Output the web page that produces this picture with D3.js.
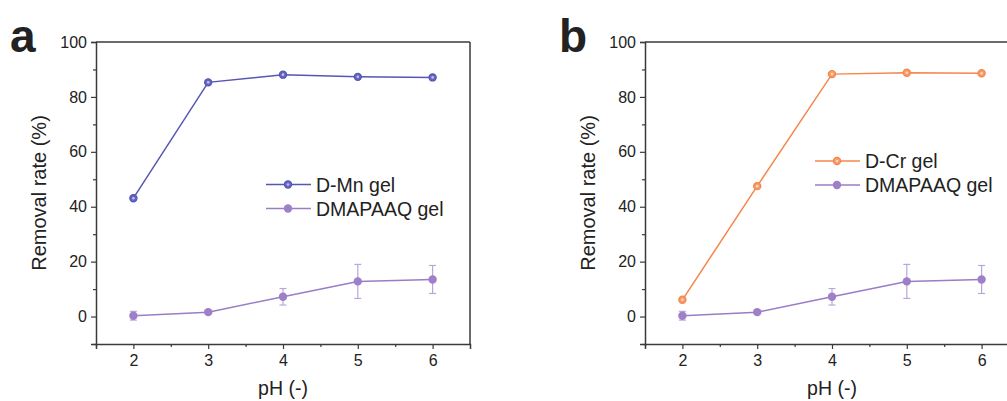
<!DOCTYPE html>
<html><head><meta charset="utf-8">
<script src="https://cdn.jsdelivr.net/npm/d3@7"></script>
<style>
body{margin:0;background:#fff;}
text{font-family:"Liberation Sans",Arial,sans-serif;fill:#222;}
</style></head>
<body><svg id="c" width="1007" height="401"></svg>
<script>
const pH = [2, 3, 4, 5, 6];
const dMn = [43.1, 85.3, 88.1, 87.3, 87.1];
const dCr = [6.1, 47.5, 88.3, 88.8, 88.6];
const dmapaaq = [0.3, 1.6, 7.2, 12.8, 13.5];
const dmapaaqErr = [1.6, 0.6, 3.0, 6.2, 5.1];
const yTicks = [0, 20, 40, 60, 80, 100];
const xTicks = [2, 3, 4, 5, 6];

const svg = d3.select("#c");
const AX = "#3a3a3a";

function panel(ox, letter, mainName, mainVals, mainColor, mainFill, legendY) {
  const x = d3.scaleLinear().domain([1.5, 6.5]).range([ox, ox + 374]);
  const y = d3.scaleLinear().domain([-10, 100]).range([344, 42]);
  const g = svg.append("g");

  // frame top & right
  g.append("line").attr("x1", x(1.5)).attr("x2", x(6.5)).attr("y1", y(100)).attr("y2", y(100))
    .attr("stroke", AX).attr("stroke-width", 1.5);
  g.append("line").attr("x1", x(6.5)).attr("x2", x(6.5)).attr("y1", y(100)).attr("y2", y(-10))
    .attr("stroke", AX).attr("stroke-width", 1.5);

  // y axis
  const ya = d3.axisLeft(y).tickValues(yTicks).tickSize(5).tickPadding(4);
  g.append("g").attr("transform", `translate(${x(1.5)},0)`).call(ya);
  const yMinor = d3.axisLeft(y).tickValues(d3.range(-10, 101, 10).filter(v => !yTicks.includes(v))).tickSize(3).tickFormat("");
  g.append("g").attr("transform", `translate(${x(1.5)},0)`).call(yMinor).select(".domain").remove();

  // x axis
  const xa = d3.axisBottom(x).tickValues(xTicks).tickSize(5).tickPadding(6).tickFormat(d3.format("d"));
  g.append("g").attr("transform", `translate(0,${y(-10)})`).call(xa);
  const xMinor = d3.axisBottom(x).tickValues([1.5, 2.5, 3.5, 4.5, 5.5]).tickSize(3).tickFormat("");
  g.append("g").attr("transform", `translate(0,${y(-10)})`).call(xMinor).select(".domain").remove();

  g.selectAll(".domain").attr("stroke", AX).attr("stroke-width", 1.5);
  g.selectAll(".tick line").attr("stroke", AX).attr("stroke-width", 1.2);
  g.selectAll(".tick text").style("font-size", "16px").style("font-family", '"Liberation Sans",Arial,sans-serif').attr("fill", "#222");

  // titles
  g.append("text").attr("transform", `translate(${ox - 50},193) rotate(-90)`)
    .attr("text-anchor", "middle").style("font-size", "20px").text("Removal rate (%)");
  g.append("text").attr("x", x(4)).attr("y", 395).attr("text-anchor", "middle")
    .style("font-size", "19.5px").text("pH (-)");
  g.append("text").attr("x", ox - 86).attr("y", 52).style("font-size", "46px").style("font-weight", "bold")
    .attr("fill", "#111").text(letter);

  // DMAPAAQ series
  const purple = "#9a7dc6";
  const line = d3.line().x((d, i) => x(pH[i])).y(d => y(d));
  g.selectAll(".eb").data(dmapaaq).enter().append("g").each(function (d, i) {
    const e = dmapaaqErr[i], gg = d3.select(this), cx = x(pH[i]);
    gg.append("line").attr("x1", cx).attr("x2", cx).attr("y1", y(d - e)).attr("y2", y(d + e));
    gg.append("line").attr("x1", cx - 3.5).attr("x2", cx + 3.5).attr("y1", y(d - e)).attr("y2", y(d - e));
    gg.append("line").attr("x1", cx - 3.5).attr("x2", cx + 3.5).attr("y1", y(d + e)).attr("y2", y(d + e));
    gg.selectAll("line").attr("stroke", "#bba6dc").attr("stroke-width", 1.2);
  });
  g.append("path").datum(dmapaaq).attr("d", line).attr("fill", "none").attr("stroke", purple).attr("stroke-width", 1.5);
  g.selectAll(".pm").data(dmapaaq).enter().append("circle")
    .attr("cx", (d, i) => x(pH[i])).attr("cy", d => y(d)).attr("r", 4.2).attr("fill", "#9e80c8");

  // main series
  g.append("path").datum(mainVals).attr("d", line).attr("fill", "none").attr("stroke", mainColor).attr("stroke-width", 1.5);
  g.selectAll(".mm").data(mainVals).enter().append("circle")
    .attr("cx", (d, i) => x(pH[i])).attr("cy", d => y(d)).attr("r", 3.6)
    .attr("fill", mainFill).attr("stroke", mainColor).attr("stroke-width", 1.2);
  g.selectAll(".mc").data(mainVals).enter().append("circle")
    .attr("cx", (d, i) => x(pH[i])).attr("cy", d => y(d)).attr("r", 1.3).attr("fill", "#fff").attr("opacity", 0.6);

  // legend
  const lx = ox + 170;
  const items = [[mainName, mainColor, mainFill, true], ["DMAPAAQ gel", purple, "#9e80c8", false]];
  items.forEach((it, k) => {
    const ly = legendY + k * 24;
    g.append("line").attr("x1", lx).attr("x2", lx + 45).attr("y1", ly).attr("y2", ly)
      .attr("stroke", it[1]).attr("stroke-width", 1.5);
    g.append("circle").attr("cx", lx + 22).attr("cy", ly).attr("r", it[3] ? 3.6 : 4.2)
      .attr("fill", it[2]).attr("stroke", it[3] ? it[1] : "none").attr("stroke-width", 1.2);
    if (it[3]) g.append("circle").attr("cx", lx + 22).attr("cy", ly).attr("r", 1.3).attr("fill", "#fff").attr("opacity", 0.6);
    g.append("text").attr("x", lx + 50).attr("y", ly + 7.2).style("font-size", "19.5px").text(it[0]);
  });
}

panel(96, "a", "D-Mn gel", dMn, "#5656b4", "#6464c0", 184.5);
panel(645, "b", "D-Cr gel", dCr, "#f5864a", "#f79a66", 161);
</script></body></html>
